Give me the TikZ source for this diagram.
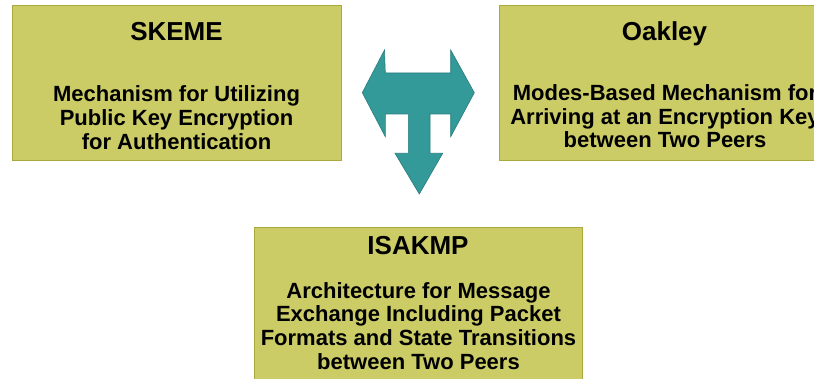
\documentclass[tikz,border=0pt]{standalone}
\usepackage{fontspec}
\setmainfont{Liberation Sans}
\definecolor{boxfill}{RGB}{204,204,102}
\definecolor{boxline}{RGB}{170,170,60}
\definecolor{teal}{RGB}{51,153,153}
\definecolor{tealdark}{RGB}{40,125,125}
\begin{document}
\begin{tikzpicture}[x=1pt,y=-1pt,
  box/.style={draw=boxline,fill=boxfill,line width=1pt},
  title/.style={anchor=base,font=\bfseries\fontsize{26}{28}\selectfont,inner sep=0pt},
  body/.style={anchor=base,align=center,font=\bfseries\fontsize{22}{23.7}\selectfont,inner sep=0pt}]
\useasboundingbox (0,0) rectangle (814,379);
\clip (0,0) rectangle (814,379);
\fill[white] (0,0) rectangle (814,379);
% boxes
\draw[box] (12.5,6) rectangle (341.5,160.5);
\draw[box] (499.5,6) rectangle (830,160.5);
\draw[box] (254,227.5) rectangle (582.5,400);
% texts
\node[title] (skemet) at (176.5,40.7) {SKEME};
\node[body] (skemeb) at (176.5,149.3) {Mechanism for Utilizing\\Public Key Encryption\\for Authentication};
\node[title] (oakleyt) at (664.5,40.7) {Oakley};
\node[body] (oakleyb) at (665,148) {Modes-Based Mechanism for\\Arriving at an Encryption Key\\between Two Peers};
\node[title] (isakmpt) at (418,255) {ISAKMP};
\node[body] (isakmpb) at (418.5,369.3) {Architecture for Message\\Exchange Including Packet\\Formats and State Transitions\\between Two Peers};
% three-way arrow
\filldraw[fill=teal,draw=tealdark,line width=0.6pt,line join=miter]
  (362.3,92.7) -- (384.5,50) -- (385.3,73) -- (450.7,73) -- (450.7,50)
  -- (474.3,92.7) -- (450.7,136.7) -- (450.7,114) -- (430,114) -- (430,153.3)
  -- (442.7,153.3) -- (419.3,194) -- (395,153.3) -- (408.3,153.3)
  -- (408.3,114) -- (385.3,114) -- (385.3,136.7) -- cycle;
\end{tikzpicture}
\end{document}
